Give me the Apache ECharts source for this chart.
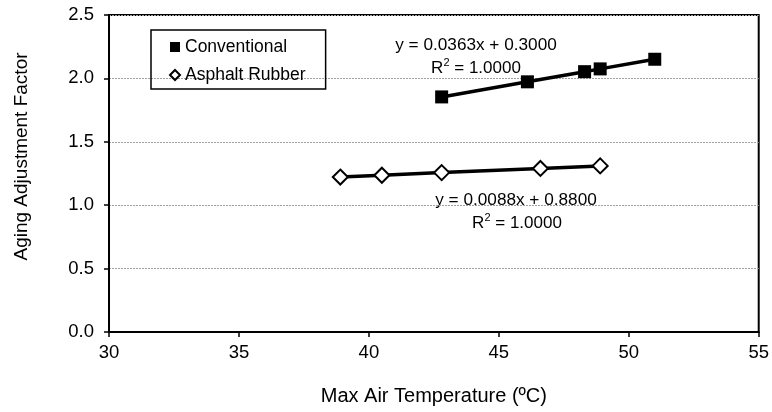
<!DOCTYPE html>
<html>
<head>
<meta charset="utf-8">
<script src="https://cdn.jsdelivr.net/npm/echarts@6/dist/echarts.min.js"></script>
<style>
  html, body { margin: 0; padding: 0; background: #fff; }
  #main { width: 772px; height: 412px; }
</style>
</head>
<body>
<div id="main"></div>
<script>
// data
var convTemp = [42.8, 46.1, 48.3, 48.9, 51.0];
var convFactor = [1.854, 1.973, 2.053, 2.075, 2.151];
var arTemp = [38.9, 40.5, 42.8, 46.6, 48.9];
var arFactor = [1.222, 1.236, 1.257, 1.290, 1.310];
var seriesNames = ['Conventional', 'Asphalt Rubber'];
var convEq = ['y = 0.0363x + 0.3000', '1.0000'];
var arEq = ['y = 0.0088x + 0.8800', '1.0000'];

function pairs(xs, ys) {
  return xs.map(function (x, i) { return [x, ys[i]]; });
}

var font = 'Arial, "Liberation Sans", sans-serif';

// R² line, drawn as rich text so the 2 sits up high
function r2Text(val, cx, cy) {
  return {
    type: 'text',
    x: cx, y: cy,
    style: {
      text: '{n|R}{s|2}{n| = ' + val + '}',
      align: 'center',
      verticalAlign: 'middle',
      rich: {
        n: { fontSize: 17, fontFamily: font, fill: '#000' },
        s: { fontSize: 11, fontFamily: font, fill: '#000', padding: [0, 0, 10, 0] }
      }
    }
  };
}

var chart = echarts.init(document.getElementById('main'));
chart.setOption({
  animation: false,
  grid: {
    left: 109, right: 12, top: 15, bottom: 80,
    show: true, borderColor: '#000', borderWidth: 2
  },
  legend: {
    orient: 'vertical',
    left: 151, top: 30,
    padding: [8, 20, 5, 18],
    itemGap: 10,
    itemWidth: 10, itemHeight: 10,
    borderColor: '#000', borderWidth: 1.5,
    textStyle: { fontSize: 17.5, fontFamily: font, color: '#000' },
    data: [
      { name: seriesNames[0], icon: 'rect' },
      { name: seriesNames[1], icon: 'diamond' }
    ]
  },
  xAxis: {
    type: 'value',
    min: 30, max: 55, interval: 5,
    name: 'Max Air Temperature (ºC)',
    nameLocation: 'middle', nameGap: 54,
    nameTextStyle: { fontSize: 20, fontFamily: font, color: '#000' },
    axisLine: { lineStyle: { color: '#000', width: 2 } },
    axisTick: { show: true, length: 5, lineStyle: { color: '#000', width: 1.5 } },
    axisLabel: { fontSize: 18.5, fontFamily: font, color: '#000', margin: 11 },
    splitLine: { show: false }
  },
  yAxis: {
    type: 'value',
    min: 0, max: 2.5, interval: 0.5,
    name: 'Aging Adjustment Factor',
    nameLocation: 'middle', nameGap: 78,
    nameTextStyle: { fontSize: 19, fontFamily: font, color: '#000', padding: [0, 0, 0, 34] },
    axisLine: { show: true, lineStyle: { color: '#000', width: 2 } },
    axisTick: { show: true, length: 5, lineStyle: { color: '#000', width: 1.5 } },
    axisLabel: {
      fontSize: 18.5, fontFamily: font, color: '#000', margin: 15,
      formatter: function (v) { return v.toFixed(1); }
    },
    splitLine: { show: true, lineStyle: { color: '#a0a0a0', width: 1, type: [2, 1] } }
  },
  series: [
    {
      name: seriesNames[0],
      type: 'line',
      data: pairs(convTemp, convFactor),
      symbol: 'rect', symbolSize: 13,
      itemStyle: { color: '#000' },
      lineStyle: { color: '#000', width: 3.5 }
    },
    {
      name: seriesNames[1],
      type: 'line',
      data: pairs(arTemp, arFactor),
      symbol: 'diamond', symbolSize: 15,
      itemStyle: { color: '#fff', borderColor: '#000', borderWidth: 2 },
      lineStyle: { color: '#000', width: 3.5 }
    }
  ],
  graphic: [
    {
      type: 'text', x: 476, y: 45,
      style: { text: convEq[0], align: 'center', verticalAlign: 'middle',
               fontSize: 17.2, fontFamily: font, fill: '#000' }
    },
    r2Text(convEq[1], 476, 68),
    {
      type: 'text', x: 516, y: 200,
      style: { text: arEq[0], align: 'center', verticalAlign: 'middle',
               fontSize: 17.2, fontFamily: font, fill: '#000' }
    },
    r2Text(arEq[1], 517, 223)
  ]
});
</script>
</body>
</html>
